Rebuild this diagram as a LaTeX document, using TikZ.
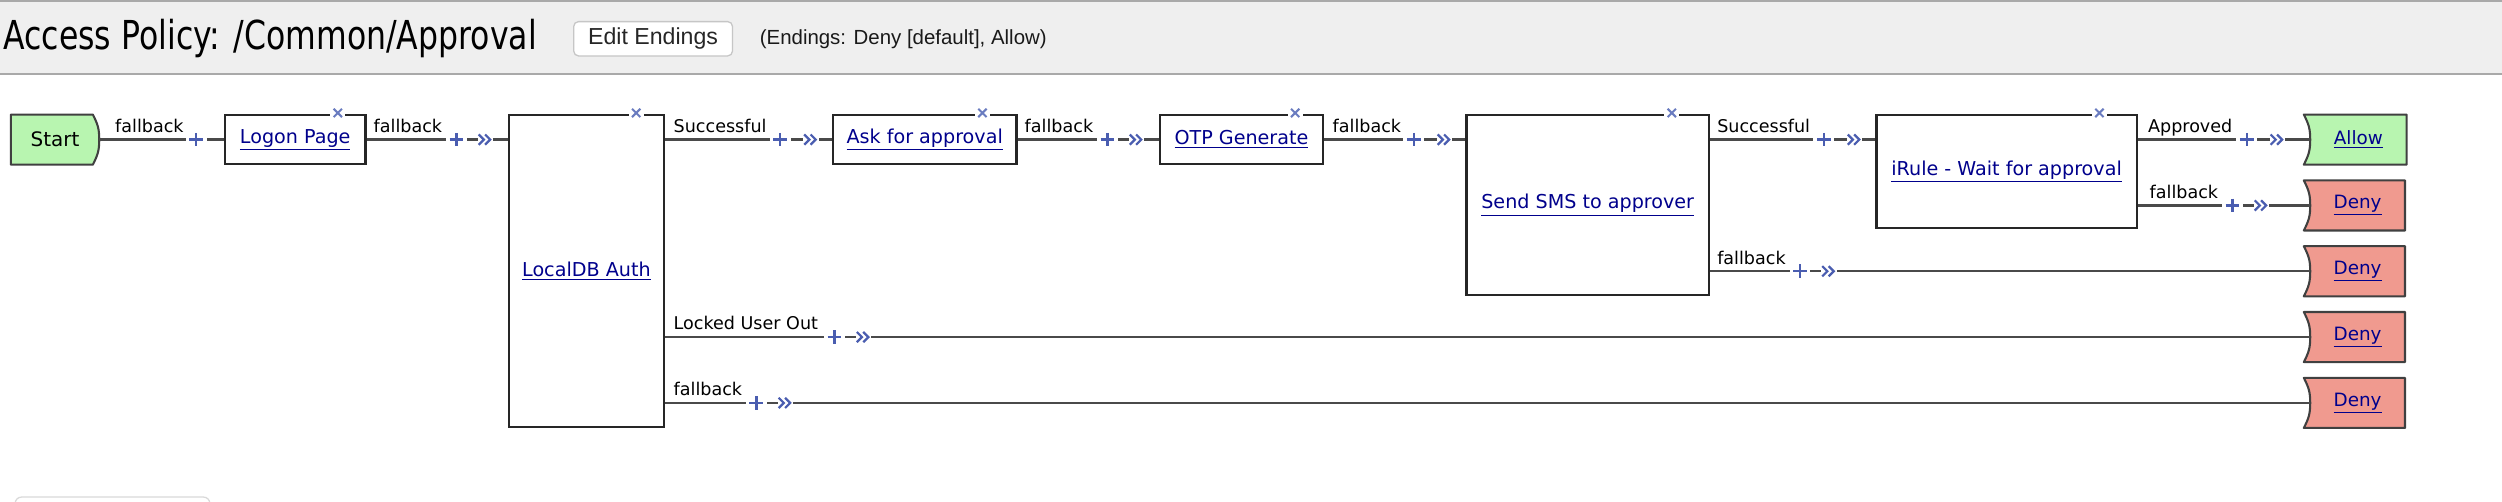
\documentclass[tikz,border=0pt]{standalone}
\usepackage{fontspec}
\setmainfont{DejaVu Sans}
\newfontfamily\titlefont[FakeStretch=0.79]{DejaVu Sans}
\newfontfamily\uifont{Liberation Sans}
\usetikzlibrary{calc,backgrounds}
\definecolor{hdrbg}{HTML}{EFEFEF}
\definecolor{hdrline}{HTML}{A9A9A9}
\definecolor{lnk}{HTML}{00008C}
\definecolor{iconblue}{HTML}{4A5DB0}
\definecolor{delblue}{HTML}{6A7CC0}
\definecolor{okgreen}{HTML}{B8F5B0}
\definecolor{denyred}{HTML}{F09A8F}
\definecolor{wire}{HTML}{4A4A4A}
\newcommand\lblfont{\fontsize{11}{13}\selectfont}
\newcommand\lnkfont{\fontsize{12}{14}\selectfont}
\newcommand\ulink[1]{\underline{#1}}
\tikzset{
  box/.style={draw=black!85, line width=1.4pt, fill=white, inner sep=0pt,
    font=\lnkfont, text=lnk},
  term/.style={draw=none, inner sep=0pt, font=\fontsize{11.5}{13}\selectfont},
  wire/.style={draw=wire, line width=1.5pt},
  lbl/.style={inner sep=0pt, font=\lblfont, text=black, anchor=base west},
  endshape/.style={draw=black!75, line width=1.3pt, line join=round},
  plusmark/.pic={\fill[white] (-6.5,-4.5) rectangle (6.5,4.5);
    \draw[iconblue, line width=1.5pt] (-4.3,0) -- (4.3,0) (0,-4.3) -- (0,4.3);},
  chevmark/.pic={\fill[white] (-4.5,-4.5) rectangle (5,4.5);
    \draw[iconblue, line width=1.4pt] (-4,-3.2) -- (-0.8,0) -- (-4,3.2)
      (0,-3.2) -- (3.2,0) -- (0,3.2);},
  delmark/.pic={\fill[white] (-4.8,-3.5) rectangle (4.8,3.5);
    \draw[delblue, line width=1.3pt] (-2.6,-2.6) -- (2.6,2.6) (-2.6,2.6) -- (2.6,-2.6);}
}
\begin{document}
\begin{tikzpicture}[x=1pt, y=-1pt]
\useasboundingbox (0,0) rectangle (1568,314.6);
% header band
\fill[hdrbg] (0,0) rectangle (1568,46.5);
\draw[hdrline, line width=1.4pt] (0,0.8) -- (1568,0.8);
\draw[hdrline, line width=1.4pt] (0,46.5) -- (1568,46.5);
\node[anchor=base west, inner sep=0pt, font=\titlefont\fontsize{25}{30}\selectfont] (title) at (2,31) {Access Policy: /Common/Approval};
\node[draw=gray!45, line width=0.8pt, fill=white, rounded corners=3pt, minimum width=99.5pt, minimum height=21.5pt, inner sep=0pt,
  font=\uifont\fontsize{14.5}{16}\selectfont, text=black!85] (edit) at (409.3,24.3) {Edit Endings};
\node[anchor=west, inner sep=0pt, font=\uifont\fontsize{12.8}{15}\selectfont, text=black!90] (endings) at (476,24.5) {(Endings: Deny [default], Allow)};

% nodes
\node[term, font=\fontsize{12.5}{14}\selectfont, minimum width=55pt, minimum height=31pt] (start) at (34.5,87.5) {Start};
\node[box, minimum width=88pt, minimum height=31pt] (logon) at (185,87.5) {\ulink{Logon Page}};
\node[box, minimum width=97pt, minimum height=195.5pt] (localdb) at (367.5,169.75) {\ulink{LocalDB Auth}};
\node[box, minimum width=115pt, minimum height=31pt] (ask) at (579.5,87.5) {\ulink{Ask for approval}};
\node[box, minimum width=102pt, minimum height=31pt] (otp) at (778,87.5) {\ulink{OTP Generate}};
\node[box, minimum width=152pt, minimum height=113pt] (sms) at (995,128.5) {\ulink{Send SMS to approver}};
\node[box, minimum width=163pt, minimum height=71pt] (irule) at (1257.5,107.5) {\ulink{iRule - Wait for approval}};
\node[term, text=lnk, minimum width=60pt, minimum height=31pt] (allow) at (1478,87.5) {\ulink{Allow}};
\node[term, text=lnk, minimum width=59pt, minimum height=31pt] (deny1) at (1477.5,128.75) {\ulink{Deny}};
\node[term, text=lnk, minimum width=59pt, minimum height=31pt] (deny2) at (1477.5,170) {\ulink{Deny}};
\node[term, text=lnk, minimum width=59pt, minimum height=31pt] (deny3) at (1477.5,211.25) {\ulink{Deny}};
\node[term, text=lnk, minimum width=59pt, minimum height=31pt] (deny4) at (1477.5,252.5) {\ulink{Deny}};

% start / ending shapes
\begin{scope}[on background layer]
\draw[endshape, fill=okgreen] (start.north west) -- ($(start.north east)+(-4,0)$)
  .. controls +(3,6) and +(0,-7) .. (start.east)
  .. controls +(0,7) and +(3,-6) .. ($(start.south east)+(-4,0)$)
  -- (start.south west) -- cycle;
\foreach \e/\c in {allow/okgreen, deny1/denyred, deny2/denyred, deny3/denyred, deny4/denyred}{
  \draw[endshape, fill=\c] ($(\e.north west)+(-4,0)$) -- (\e.north east) -- (\e.south east)
    -- ($(\e.south west)+(-4,0)$)
    .. controls +(3,-6) and +(0,7) .. (\e.west)
    .. controls +(0,-7) and +(3,6) .. ($(\e.north west)+(-4,0)$) -- cycle;
}
\end{scope}

% connectors
\draw[wire] (start.east) -- (logon.west);
\draw[wire] (logon.east) -- (localdb.west |- logon.east);
\draw[wire] (localdb.east |- ask.west) -- (ask.west);
\draw[wire] (ask.east) -- (otp.west);
\draw[wire] (otp.east) -- (sms.west |- otp.east);
\draw[wire] (sms.east |- otp.east) -- (irule.west |- otp.east);
\draw[wire] (irule.east |- allow.west) -- (allow.west);
\draw[wire] (irule.east |- deny1.west) -- (deny1.west);
\draw[wire] (sms.east |- deny2.west) -- (deny2.west);
\draw[wire] (localdb.east |- deny3.west) -- (deny3.west);
\draw[wire] (localdb.east |- deny4.west) -- (deny4.west);

% connector labels
\node[lbl] (l1) at (72,83) {fallback};
\node[lbl] (l2) at (234,83) {fallback};
\node[lbl] (l3) at (422,83) {Successful};
\node[lbl] (l4) at (642,83) {fallback};
\node[lbl] (l5) at (835,83) {fallback};
\node[lbl] (l6) at (1076,83) {Successful};
\node[lbl] (l7) at (1346,83) {Approved};
\node[lbl] (l8) at (1347,124.25) {fallback};
\node[lbl] (l9) at (1076,165.5) {fallback};
\node[lbl] (l10) at (422,206.75) {Locked User Out};
\node[lbl] (l11) at (422,248) {fallback};

% plus and chevron icons
\foreach \x/\y in {123/87.5, 286/87.5, 489/87.5, 694/87.5, 886/87.5, 1143/87.5, 1408/87.5,
  1399/128.75, 1128/170, 523/211.25, 474/252.5}
  \pic at (\x,\y) {plusmark};
\foreach \x/\y in {304/87.5, 508/87.5, 712/87.5, 905/87.5, 1162/87.5, 1427/87.5,
  1417/128.75, 1146/170, 541/211.25, 492/252.5}
  \pic at (\x,\y) {chevmark};

% delete marks on action boxes
\pic at ($(logon.north east)+(-18,-0.5)$) {delmark};
\pic at ($(localdb.north east)+(-18,-0.5)$) {delmark};
\pic at ($(ask.north east)+(-22,-0.5)$) {delmark};
\pic at ($(otp.north east)+(-18,-0.5)$) {delmark};
\pic at ($(sms.north east)+(-24,-0.5)$) {delmark};
\pic at ($(irule.north east)+(-24,-0.5)$) {delmark};

% partly visible control at the bottom
\draw[gray!30, line width=0.8pt, rounded corners=4pt] (9.5,330) -- (9.5,311.5) -- (131.5,311.5) -- (131.5,330);
\end{tikzpicture}
\end{document}
